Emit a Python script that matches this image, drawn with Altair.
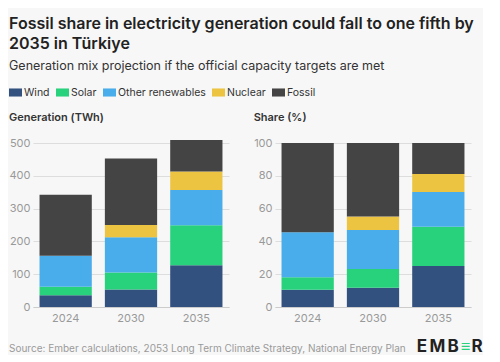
import altair as alt
import pandas as pd

years = ["2024", "2030", "2035"]
sources = ["Wind", "Solar", "Other renewables", "Nuclear", "Fossil"]
colors = ["#32517f", "#28d17c", "#48adea", "#ecc442", "#444444"]
wind = [36, 53, 127]
solar = [26, 52, 122]
other_renewables = [94, 108, 108]
nuclear = [0, 37, 56]
fossil = [186, 203, 96]

title_lines = ["Fossil share in electricity generation could fall to one fifth by", "2035 in Türkiye"]
subtitle = "Generation mix projection if the official capacity targets are met"
source_note = ["Source: Ember calculations, 2053 Long Term Climate Strategy, National Energy Plan"]
logo_letters = ["E", "M", "B", "≡", "R"]

series = [wind, solar, other_renewables, nuclear, fossil]
rows = []
for i, (name, vals) in enumerate(zip(sources, series)):
    for y, v in zip(years, vals):
        rows.append({"year": y, "source": name, "order": i, "value": v})
df = pd.DataFrame(rows)

FONT = "Inter"
W, H = 196, 164

color = alt.Color(
    "source:N",
    scale=alt.Scale(domain=sources, range=colors),
    legend=alt.Legend(
        orient="none", legendX=-24, legendY=-57, direction="horizontal",
        title=None, symbolType="M-1,-0.62H1V0.62H-1Z",
        symbolSize=169, symbolStrokeWidth=0, symbolOpacity=1,
        labelFontSize=10.5, labelColor="#333333", labelFont=FONT,
        columnPadding=6, labelOffset=2, padding=0,
    ),
)

xenc = alt.X(
    "year:N", title=None, sort=years,
    scale=alt.Scale(paddingInner=0.2, paddingOuter=0.1),
    axis=alt.Axis(labelAngle=0, ticks=False, domainColor="#cccccc", labelPadding=5),
)

def panel_title(t):
    return alt.TitleParams(t, anchor="start", fontSize=11, fontWeight=600,
                           color="#333333", font=FONT, offset=14)

gen = alt.Chart(df).mark_bar(clip=False).encode(
    x=xenc,
    y=alt.Y("value:Q", stack="zero", title=None,
            scale=alt.Scale(domain=[0, 500], nice=False),
            axis=alt.Axis(values=[0, 100, 200, 300, 400, 500], domain=False, ticks=False, labelPadding=3)),
    color=color,
    order=alt.Order("order:Q", sort="ascending"),
).properties(width=W, height=H, title=panel_title("Generation (TWh)"))

share = alt.Chart(df).mark_bar().encode(
    x=xenc,
    y=alt.Y("value:Q", stack="normalize", title=None,
            scale=alt.Scale(domain=[0, 1], nice=False),
            axis=alt.Axis(values=[0, 0.2, 0.4, 0.6, 0.8, 1.0], domain=False, ticks=False,
                          labelPadding=3, labelExpr="round(datum.value*100)")),
    color=color,
    order=alt.Order("order:Q", sort="ascending"),
).properties(width=W, height=H, title=panel_title("Share (%)"))

main = alt.hconcat(gen, share, spacing=24).properties(
    title=alt.TitleParams(
        text=title_lines, subtitle=subtitle, anchor="start",
        fontSize=16, fontWeight=600, color="#222222", font=FONT, lineHeight=20,
        subtitleFontSize=12.5, subtitleColor="#333333", subtitleFont=FONT,
        subtitlePadding=8, offset=40,
    ),
)

footer_text = alt.Chart(pd.DataFrame({"t": source_note})).mark_text(
    align="left", baseline="middle", fontSize=10, color="#9a9a9a", font=FONT
).encode(x=alt.value(-24), y=alt.value(26), text="t:N")

logo_x = [389, 404.5, 420, 432.5, 444]
logo_layers = []
for ch, lx in zip(logo_letters, logo_x):
    logo_layers.append(
        alt.Chart(pd.DataFrame({"t": [ch]})).mark_text(
            align="center", baseline="middle", fontSize=17, fontWeight="bold",
            color="#2ad07b" if ch == "≡" else "#222222", font=FONT
        ).encode(x=alt.value(lx), y=alt.value(24), text="t:N")
    )

footer = alt.layer(footer_text, *logo_layers).properties(width=440, height=32)

chart = alt.vconcat(main, footer, spacing=0).configure(
    padding={"left": 1, "top": 7, "right": 0, "bottom": 0},
    background="#f7f7f7",
    font=FONT,
).configure_view(stroke=None).configure_axis(
    gridColor="#dddddd", labelColor="#999999", labelFontSize=11, labelFont=FONT,
)

chart.save("out.html", embed_options={"renderer": "svg", "actions": False})
